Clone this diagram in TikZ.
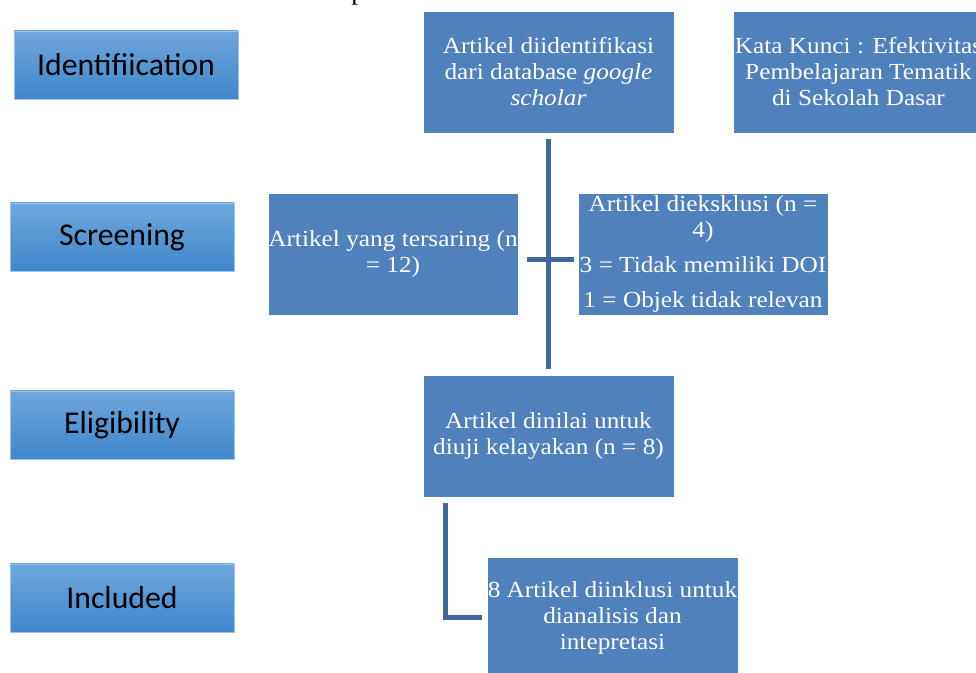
\documentclass[tikz,border=0pt]{standalone}
\usepackage{fontspec}
\setmainfont{Liberation Serif}
\newfontfamily\boxfont[FakeStretch=1.1]{Liberation Serif}
\newfontfamily\labelfont{Carlito}
\usetikzlibrary{calc}
\definecolor{boxblue}{HTML}{4F81BD}
\definecolor{connblue}{HTML}{41679C}
\definecolor{labtop}{HTML}{6EA6DD}
\definecolor{labbot}{HTML}{3F87CC}
\definecolor{labedge}{HTML}{9CC2E8}
\begin{document}
\begin{tikzpicture}[x=0.75pt,y=-0.75pt,
  stagebox/.style={rectangle, minimum width=168pt, minimum height=51pt, inner sep=0pt,
    top color=labtop, bottom color=labbot, draw=labedge, line width=0.6pt,
    font=\labelfont\fontsize{23.8pt}{28pt}\selectfont, text=black},
  flowbox/.style={rectangle, minimum width=188.25pt, minimum height=91.5pt, inner sep=0pt,
    fill=boxblue, draw=white, line width=0.4pt, text=white, align=center,
    font=\boxfont\fontsize{17.25pt}{19.5pt}\selectfont},
  conn/.style={draw=connblue, line width=3.75pt},
  fragtext/.style={anchor=base west, inner sep=0pt, text=black, font=\fontsize{20pt}{22pt}\selectfont}]
\useasboundingbox (0,0) rectangle (976,673);

% fragment of text cut off at top
\node[fragtext] (frag) at (351,0) {p};

% stage labels
\node[stagebox] (sIdent) at (126,65) {Identifiication};
\node[stagebox] (sScreen) at (122,237) {Screening};
\node[stagebox] (sElig) at (122,425) {Eligibility};
\node[stagebox] (sIncl) at (122,598) {Included};

% flow boxes
\node[flowbox] (ident) at (548.5,72) {Artikel diidentifikasi\\dari database \textit{google}\\\textit{scholar}};
\node[flowbox] (kata) at (858.5,72) {Kata Kunci : Efektivitas\\Pembelajaran Tematik\\di Sekolah Dasar};
\node[flowbox, minimum width=187.5pt] (scr) at (393,254) {Artikel yang tersaring (n\\= 12)};
\node[flowbox, minimum width=187.5pt] (exc) at (703,254) {Artikel dieksklusi (n =\\4)\\[7pt]3 = Tidak memiliki DOI\\[7pt]1 = Objek tidak relevan};
\node[flowbox] (elig) at (548.5,436) {Artikel dinilai untuk\\diuji kelayakan (n = 8)};
\node[flowbox] (incl) at (612.5,618) {8 Artikel diinklusi untuk\\dianalisis dan\\intepretasi};

% connectors
\draw[conn] ($(ident.south)+(0,6)$) -- ($(elig.north)+(0,-6)$);
\draw[conn] ($(scr.east)+(9,6)$) -- ($(exc.west)+(-4,6)$);
\draw[conn] ($(elig.south west)+(23,6)$) |- ($(incl.west)+(-5,0)$);
\end{tikzpicture}
\end{document}
